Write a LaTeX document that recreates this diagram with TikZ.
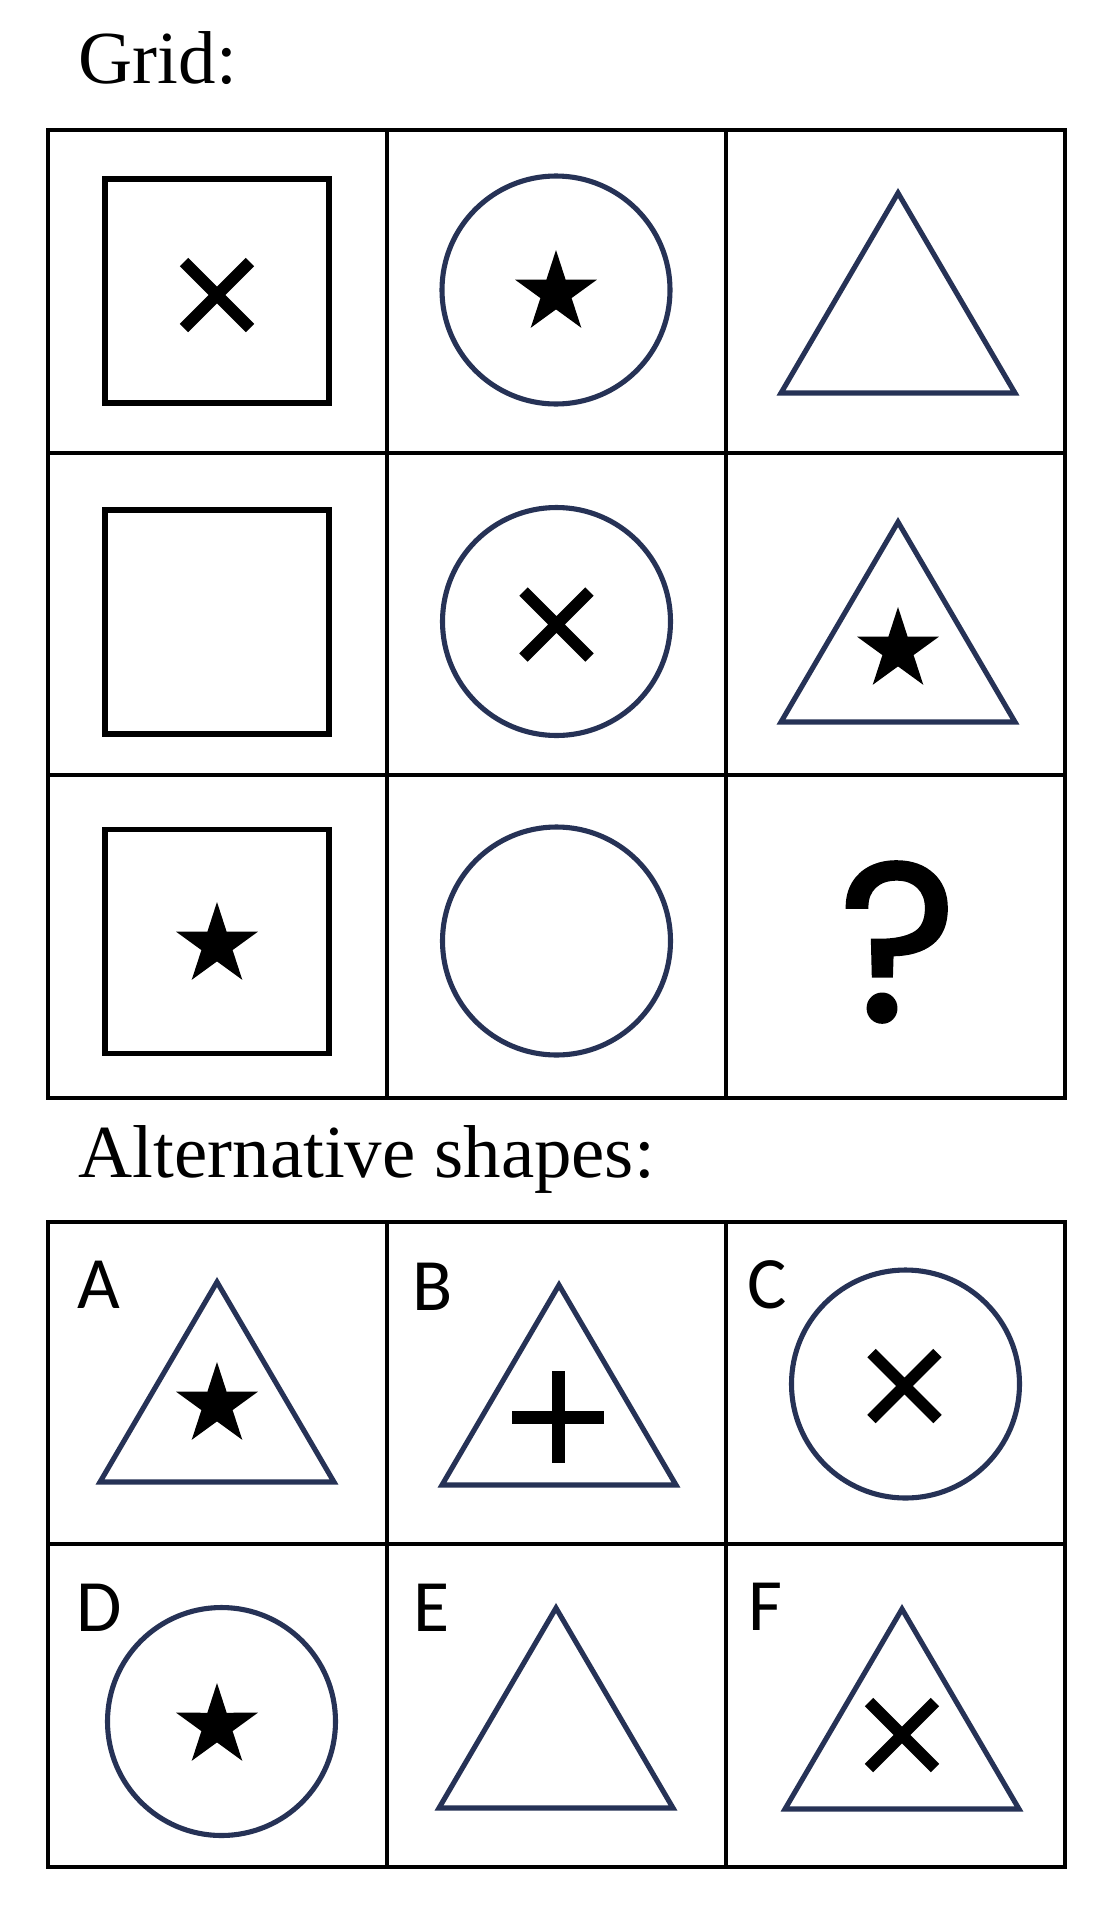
\documentclass[tikz,border=0pt]{standalone}
\usepackage{fontspec}
\setmainfont{Liberation Serif}
\newfontfamily\labelfont{Carlito}
\newfontfamily\qfont{Poppins}[FakeBold=1.5]
\usetikzlibrary{calc}
\definecolor{navy}{RGB}{38,50,86}
\newcommand{\sqshape}{(-112,-112) rectangle (112,112)}
\newcommand{\trishape}{(0,-100) -- (117,100) -- (-117,100) -- cycle}
\newcommand{\starshape}{(-90:43) -- (-54:16.4) -- (-18:43) -- (18:16.4) -- (54:43) -- (90:16.4) -- (126:43) -- (162:16.4) -- (198:43) -- (234:16.4) -- cycle}
\newcommand{\crossshape}{(-33,-33) -- (33,33) (-33,33) -- (33,-33)}
\newcommand{\plusshape}{(-46,0) -- (46,0) (0,-46) -- (0,46)}

\begin{document}
\begin{tikzpicture}[x=0.01cm,y=-0.01cm,
    cellline/.style={line width=1.14pt,line cap=rect},
    outline/.style={navy,line width=1.45pt},
    xmark/.style={line width=3.4pt},
    head/.style={anchor=base west,inner sep=0,font=\fontsize{21.3}{26}\selectfont},
    letter/.style={anchor=base west,inner sep=0,font=\labelfont\fontsize{21}{21}\selectfont}]
  \useasboundingbox (0,0) rectangle (1107,1921);
  \fill[white] (0,0) rectangle (1107,1921);

  \node[head] (gridhead) at (78,83) {Grid:};
  \node[head] (althead) at (78,1177) {Alternative shapes:};

  % the two tables
  \foreach \x in {47.7,387,726,1065.3} {
    \draw[cellline] (\x,130.3) -- (\x,1098);
    \draw[cellline] (\x,1222) -- (\x,1867);
  }
  \foreach \y in {130.3,452.7,775,1098,1222,1544,1867}
    \draw[cellline] (47.7,\y) -- (1065.3,\y);

  % outlines
  \foreach \y in {291,622,941.5}
    \draw[line width=1.5pt,shift={(217,\y)}] \sqshape;
  \foreach \x/\y in {556/290,556.5/621.5,556.5/941,905.5/1384,221.5/1721.5}
    \draw[outline] (\x,\y) circle (114);
  \foreach \x/\y in {898/293,898/622,217/1382,559/1385,556/1708,902/1709}
    \draw[outline,shift={(\x,\y)}] \trishape;

  % inner marks
  \foreach \x/\y in {556/293,898/650,217/945,217/1405,217/1726}
    \fill[shift={(\x,\y)}] \starshape;
  \foreach \x/\y in {217/295,556.5/624.5,904.5/1386,902/1735}
    \draw[xmark,shift={(\x,\y)}] \crossshape;
  \draw[xmark,line width=3.7pt,shift={(558,1417)}] \plusshape;

  \node[inner sep=0,font=\qfont\fontsize{64}{64}\selectfont] (qmark) at (898,942) {?};

  % answer letters
  \foreach \l/\x/\y in {A/77/1308,B/412/1310,C/747/1308,D/76/1631,E/413/1631,F/748/1630}
    \node[letter] (lab\l) at (\x,\y) {\l};
\end{tikzpicture}
\end{document}
